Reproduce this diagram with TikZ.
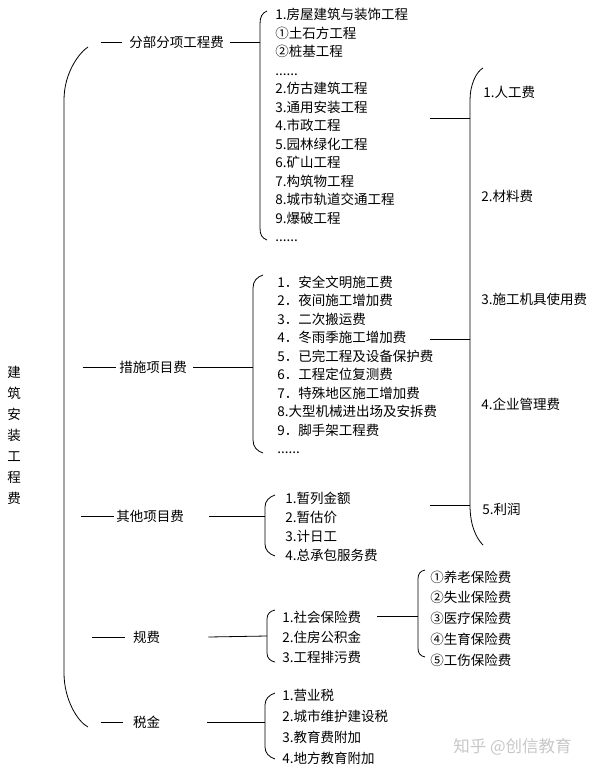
\documentclass[tikz,border=0pt]{standalone}
\usepackage{fontspec}
\setmainfont{Noto Sans CJK SC}

\begin{document}
\begin{tikzpicture}[x=1pt, y=-1pt, line width=0.8pt,
    head/.style={font=\fontsize{13.5pt}{16pt}\selectfont, inner sep=0pt},
    items/.style={font=\fontsize{13.5pt}{#1}\selectfont, align=left, anchor=west, inner sep=0pt},
    cost/.style={font=\fontsize{13.5pt}{16pt}\selectfont, anchor=west, inner sep=0pt}]
  \useasboundingbox (0,0) rectangle (595,771);
  % title and main bracket
  \node[items=21pt, align=center, anchor=center] (title) at (14,435) {建\\筑\\安\\装\\工\\程\\费};
  \draw (88,47) .. controls (80,52) and (64,72) .. (64,100) -- (64,673) .. controls (64,700) and (78,722) .. (88,727);
  % five parts
  \node[head] (c1) at (176.5,42) {分部分项工程费};
  \node[head] (c2) at (153,367) {措施项目费};
  \node[head] (c3) at (150,516) {其他项目费};
  \node[head] (c4) at (146.5,637) {规费};
  \node[head] (c5) at (146.5,722) {税金};
  % lists
  \node[items=18.5pt] (l1) at (275,125) {1.房屋建筑与装饰工程\\①土石方工程\\②桩基工程\\......\\2.仿古建筑工程\\3.通用安装工程\\4.市政工程\\5.园林绿化工程\\6.矿山工程\\7.构筑物工程\\8.城市轨道交通工程\\9.爆破工程\\......};
  \node[items=18.5pt] (l2) at (277,365) {1．安全文明施工费\\2．夜间施工增加费\\3．二次搬运费\\4．冬雨季施工增加费\\5．已完工程及设备保护费\\6．工程定位复测费\\7．特殊地区施工增加费\\8.大型机械进出场及安拆费\\9．脚手架工程费\\......};
  \node[items=19pt] (l3) at (285,526.5) {1.暂列金额\\2.暂估价\\3.计日工\\4.总承包服务费};
  \node[items=20pt] (l4) at (282,637) {1.社会保险费\\2.住房公积金\\3.工程排污费};
  \node[items=20.75pt] (l5) at (430,618.5) {①养老保险费\\②失业保险费\\③医疗保险费\\④生育保险费\\⑤工伤保险费};
  \node[items=21pt] (l6) at (282,726.5) {1.营业税\\2.城市维护建设税\\3.教育费附加\\4.地方教育附加};
  % cost elements
  \node[cost] (r1) at (483,92) {1.人工费};
  \node[cost] (r2) at (481,196) {2.材料费};
  \node[cost] (r3) at (481,299) {3.施工机具使用费};
  \node[cost] (r4) at (481,404) {4.企业管理费};
  \node[cost] (r5) at (482,509) {5.利润};
  % brackets
  \draw (267,11) .. controls (262,13) and (260,17) .. (260,24) -- (260,228) .. controls (260,235) and (262,238) .. (267,240);
  \draw (263,275) .. controls (257,277) and (253,281) .. (253,288) -- (253,440) .. controls (253,447) and (257,451) .. (263,453);
  \draw (275,495) .. controls (269,497) and (265,501) .. (265,507) -- (265,544) .. controls (265,550) and (269,554) .. (275,556);
  \draw (275,610) .. controls (270,611) and (267,614) .. (267,619) -- (267,653) .. controls (267,658) and (270,661) .. (275,662);
  \draw (425,570) .. controls (420,571) and (418,574) .. (418,579) -- (418,648) .. controls (418,653) and (420,656) .. (425,657);
  \draw (275,693) .. controls (269,695) and (265,699) .. (265,705) -- (265,747) .. controls (265,753) and (269,757) .. (275,759);
  \draw (483,68) .. controls (476,72) and (470,85) .. (470,100) -- (470,505) .. controls (470,525) and (476,538) .. (483,545);
  % joints on brackets
  \coordinate (k1) at (260,42);
  \coordinate (k2) at (253,367);
  \coordinate (k3) at (265,516);
  \coordinate (k4) at (267,636);
  \coordinate (k5) at (265,722);
  \coordinate (k6) at (418,616);
  \coordinate (m1) at (470,118);
  \coordinate (m2) at (470,339);
  \coordinate (m3) at (470,505);
  \coordinate (n1) at (430,118);
  \coordinate (n2) at (430,339);
  \coordinate (n3) at (430,505);
  \coordinate (n6) at (377,616);
  % lines
  \draw ([xshift=-28pt]c1.west) -- ([xshift=-7pt]c1.west);
  \draw ([xshift=6pt]c1.east) -- (k1);
  \draw ([xshift=-36pt]c2.west) -- ([xshift=-3pt]c2.west);
  \draw ([xshift=6pt]c2.east) -- (k2);
  \draw ([xshift=-35pt]c3.west) -- ([xshift=-2pt]c3.west);
  \draw ([xshift=25pt]c3.east) -- (k3);
  \draw ([xshift=-41pt]c4.west) -- ([xshift=-8pt]c4.west);
  \draw ([xshift=48pt]c4.east) -- (k4);
  \draw ([xshift=-32pt]c5.west) -- ([xshift=-10pt]c5.west);
  \draw ([xshift=47pt]c5.east) -- (k5);
  \draw (n6) -- (k6);
  \draw (n1) -- (m1);
  \draw (n2) -- (m2);
  \draw (n3) -- (m3);
  % mark
  \node[cost, text=black!22, font=\fontsize{16.5pt}{18pt}\selectfont] (wm) at (453,747) {知乎 @创信教育};
\end{tikzpicture}
\end{document}
